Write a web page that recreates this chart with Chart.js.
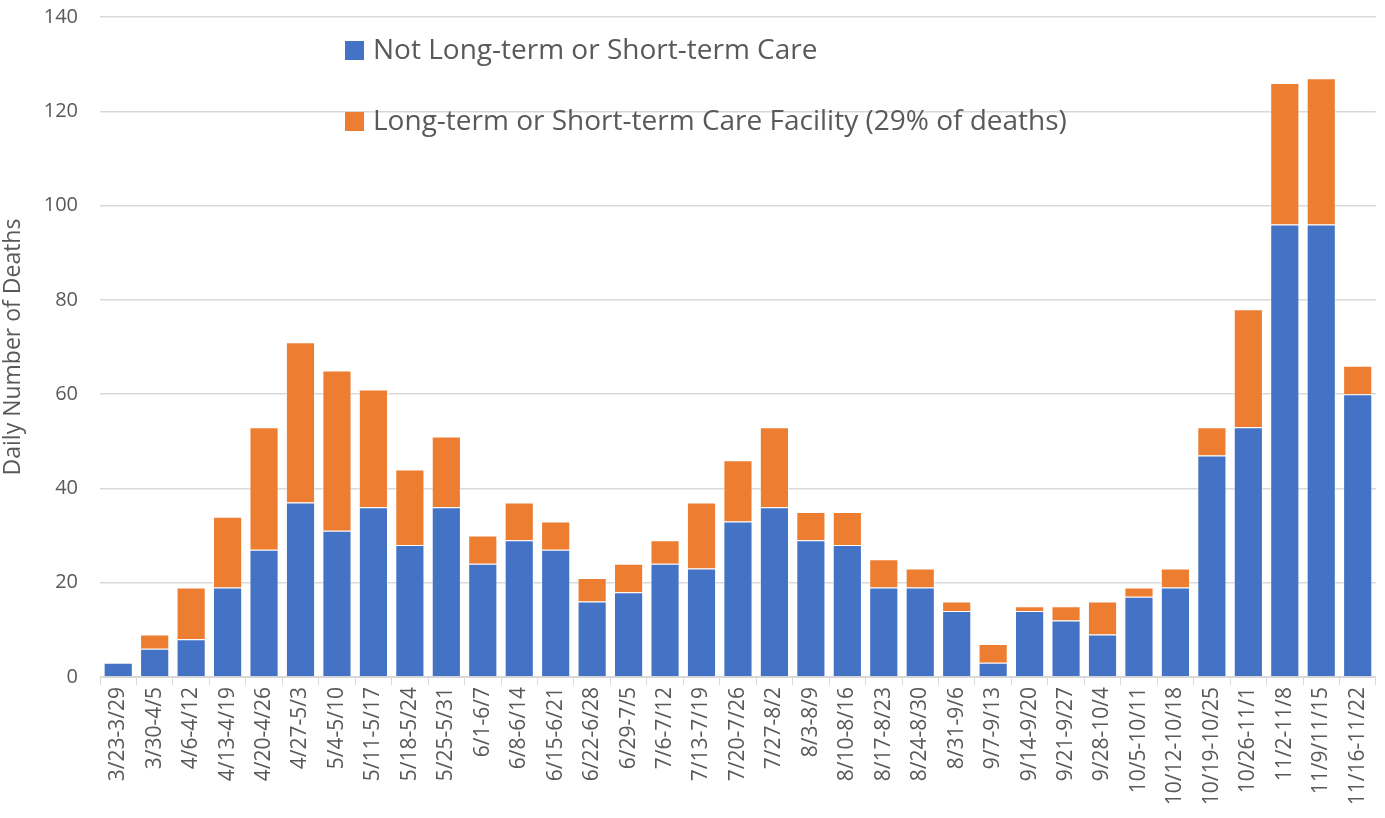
<!DOCTYPE html>
<html>
<head>
<meta charset="utf-8">
<script src="https://cdn.jsdelivr.net/npm/chart.js@4/dist/chart.umd.min.js"></script>
<style>
  html, body { margin: 0; padding: 0; background: #fff; }
  #wrap { width: 1385px; height: 818px; }
</style>
</head>
<body>
<div id="wrap"><canvas id="deathsChart" width="1385" height="818"></canvas></div>
<script>
"use strict";

// Week ranges
var weeks = ["3/23-3/29", "3/30-4/5", "4/6-4/12", "4/13-4/19", "4/20-4/26", "4/27-5/3", "5/4-5/10",
    "5/11-5/17", "5/18-5/24", "5/25-5/31", "6/1-6/7", "6/8-6/14", "6/15-6/21", "6/22-6/28", "6/29-7/5",
    "7/6-7/12", "7/13-7/19", "7/20-7/26", "7/27-8/2", "8/3-8/9", "8/10-8/16", "8/17-8/23", "8/24-8/30",
    "8/31-9/6", "9/7-9/13", "9/14-9/20", "9/21-9/27", "9/28-10/4", "10/5-10/11", "10/12-10/18",
    "10/19-10/25", "10/26-11/1", "11/2-11/8", "11/9/11/15", "11/16-11/22"];

// Deaths not in care facilities
var notCare = [3, 6, 8, 19, 27, 37, 31, 36, 28, 36, 24, 29, 27, 16, 18, 24, 23, 33, 36, 29,
    28, 19, 19, 14, 3, 14, 12, 9, 17, 19, 47, 53, 96, 96, 60];

// Deaths in long-term / short-term care facilities
var careFacility = [0, 3, 11, 15, 26, 34, 34, 25, 16, 15, 6, 8, 6, 5, 6, 5, 14, 13, 17, 6,
    7, 6, 4, 2, 4, 1, 3, 7, 2, 4, 6, 25, 30, 31, 6];

var yTicks = [0, 20, 40, 60, 80, 100, 120, 140];

var blue = "rgb(68, 114, 196)";
var orange = "rgb(237, 125, 49)";
var textColor = "#595959";
var gridColor = "#d9d9d9";
var fontFamily = "'Open Sans', 'DejaVu Sans', sans-serif";

// Legend drawn inside the plot, items stacked
var innerLegend = {
    id: "innerLegend",
    afterDraw: function(chart) {
        var ctx = chart.ctx;
        var sets = chart.data.datasets;
        var x = 345, y = 51, gap = 71;
        ctx.save();
        ctx.font = "28px " + fontFamily;
        ctx.textBaseline = "middle";
        ctx.textAlign = "left";
        for (let i = 0; i < sets.length; i++) {
            ctx.fillStyle = sets[i].backgroundColor;
            ctx.fillRect(x, y + i * gap - 10, 19, 19);
            ctx.fillStyle = textColor;
            ctx.fillText(sets[i].label, x + 28, y + i * gap);
        }
        ctx.restore();
    }
};

var config = {
    type: "bar",
    data: {
        labels: weeks,
        datasets: [
            {
                label: "Not Long-term or Short-term Care",
                data: notCare,
                backgroundColor: blue,
                borderColor: "rgba(255,255,255,0.5)",
                borderWidth: 1,
                barPercentage: 0.8,
                categoryPercentage: 1
            },
            {
                label: "Long-term or Short-term Care Facility (29% of deaths)",
                data: careFacility,
                backgroundColor: orange,
                borderColor: "rgba(255,255,255,0.5)",
                borderWidth: 1,
                barPercentage: 0.8,
                categoryPercentage: 1
            }
        ]
    },
    options: {
        responsive: false,
        animation: false,
        layout: {
            padding: { top: 17, right: 7, left: 0, bottom: 0 }
        },
        plugins: {
            legend: { display: false },
            tooltip: { enabled: false }
        },
        scales: {
            x: {
                stacked: true,
                afterFit: function(scale) { scale.height = 141; },
                grid: {
                    drawOnChartArea: false,
                    drawTicks: true,
                    tickLength: 8,
                    color: gridColor
                },
                border: { color: gridColor, width: 1 },
                ticks: {
                    color: textColor,
                    font: { family: fontFamily, size: 21 },
                    maxRotation: 90,
                    minRotation: 90,
                    autoSkip: false,
                    padding: 2
                }
            },
            y: {
                stacked: true,
                min: 0,
                max: 140,
                afterFit: function(scale) {
                    scale.width = 100;
                    scale.paddingTop = 0;
                },
                afterBuildTicks: function(scale) {
                    scale.ticks = yTicks.map(function(v) { return { value: v }; });
                },
                grid: {
                    color: gridColor,
                    lineWidth: 1.5,
                    drawTicks: false
                },
                border: { display: false },
                ticks: {
                    color: textColor,
                    font: { family: fontFamily, size: 20 },
                    padding: 22
                },
                title: {
                    display: true,
                    text: "Daily Number of Deaths",
                    color: textColor,
                    font: { family: fontFamily, size: 23 },
                    padding: 0
                }
            }
        }
    },
    plugins: [innerLegend]
};

var ctx = document.getElementById("deathsChart").getContext("2d");
var chart = new Chart(ctx, config);
</script>
</body>
</html>
